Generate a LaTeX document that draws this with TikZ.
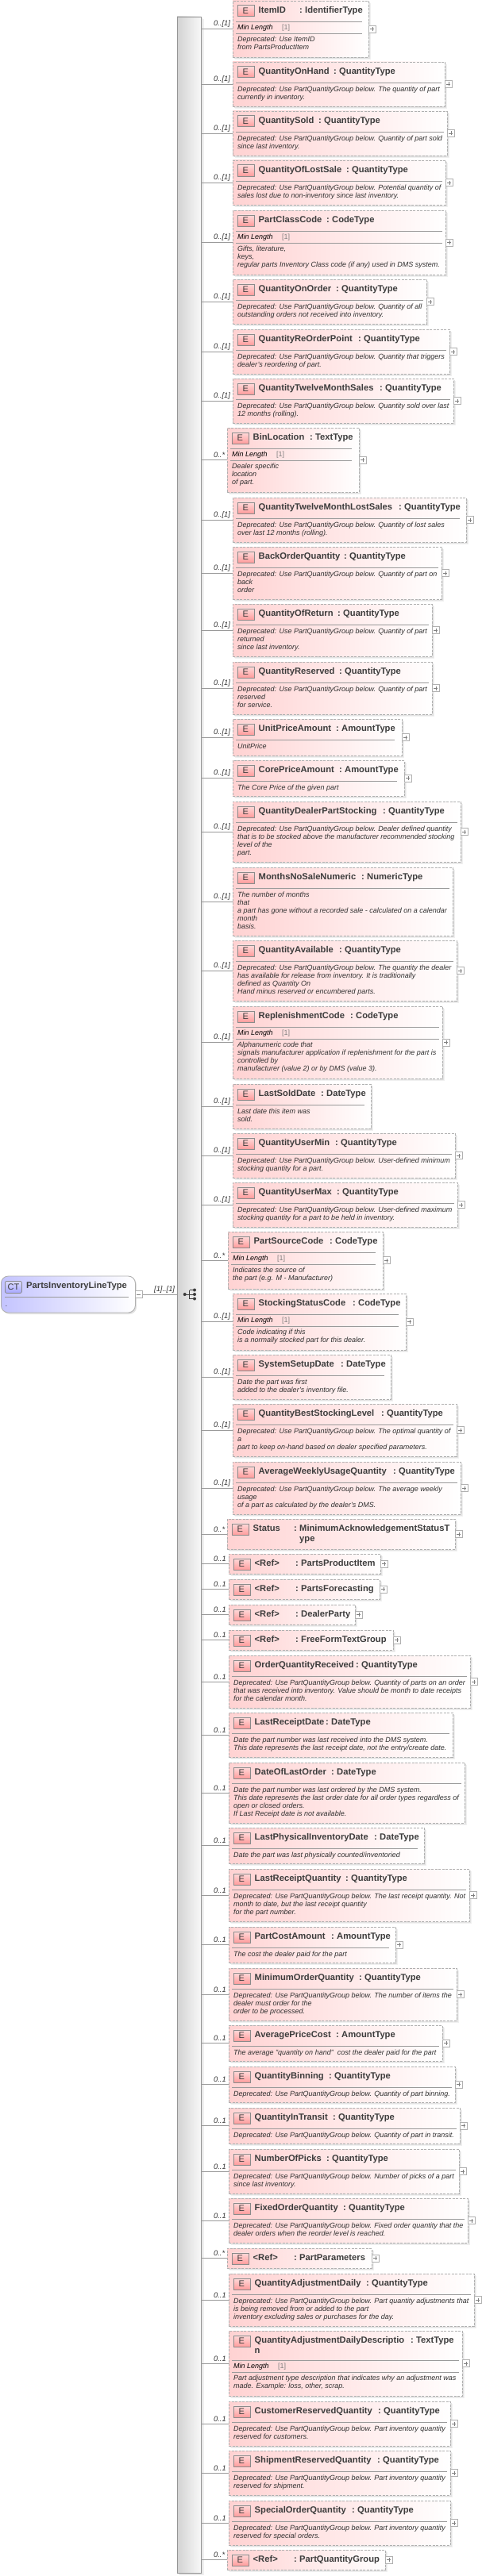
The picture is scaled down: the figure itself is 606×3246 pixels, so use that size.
\documentclass[tikz,border=0pt]{standalone}
\usepackage{fontspec}
\setmainfont{Liberation Sans}
\definecolor{ttxt}{HTML}{3C3C3C}
\definecolor{dtxt}{HTML}{303030}
\definecolor{bord}{HTML}{B0B0B0}
\definecolor{rule}{HTML}{9A9A9A}
\definecolor{pinkL}{HTML}{FFD2D2}
\definecolor{iconT}{HTML}{FFDADA}
\definecolor{iconB}{HTML}{FF9C9C}
\definecolor{iconL}{HTML}{8A8A8A}
\definecolor{ctL}{HTML}{C4C4FF}
\definecolor{spL}{HTML}{D2D2D2}
\definecolor{spR}{HTML}{F8F8F8}
\definecolor{shA}{HTML}{F0F0F0}
\definecolor{shB}{HTML}{E2E2E2}
\tikzset{
  elembox/.style={rectangle,draw=bord,dashed,dash pattern=on 3pt off 1.5pt,line width=0.9pt,left color=pinkL,right color=white,inner sep=0pt,outer sep=0pt},
  eicon/.style={rectangle,draw=iconL,line width=0.8pt,top color=iconT,bottom color=iconB,inner sep=0pt,minimum width=21pt,minimum height=14pt,text=ttxt,font=\fontsize{11}{11}\selectfont},
  etitle/.style={inner sep=0pt,anchor=north west,align=left,text=ttxt,font=\fontsize{11.2}{13}\selectfont\bfseries},
  edesc/.style={inner sep=0pt,anchor=north west,align=left,text=dtxt,font=\fontsize{9}{10}\selectfont\itshape},
  emin/.style={inner sep=0pt,anchor=west,text=black,font=\fontsize{9}{10}\selectfont\itshape},
  emulti/.style={inner sep=0pt,anchor=west,text=gray,font=\fontsize{9}{10}\selectfont},
  ecard/.style={inner sep=0pt,anchor=west,text=dtxt,font=\fontsize{9.3}{10}\selectfont\itshape},
  conn/.style={draw=rule,line width=0.7pt},
  hline/.style={draw=rule,line width=0.8pt},
  sh1/.style={fill=shA},
  sh2/.style={fill=shB},
  plusbox/.style={rectangle,draw=bord,fill=white,line width=0.6pt,inner sep=0pt,minimum size=9pt,anchor=west,
    path picture={\draw[gray,line width=0.5pt] ([xshift=-2.5pt]path picture bounding box.center) -- ([xshift=2.5pt]path picture bounding box.center) ([yshift=-2.5pt]path picture bounding box.center) -- ([yshift=2.5pt]path picture bounding box.center);}},
  minusbox/.style={rectangle,draw=bord,fill=white,line width=0.6pt,inner sep=0pt,minimum size=9pt,anchor=west,
    path picture={\draw[gray,line width=0.5pt] ([xshift=-2.5pt]path picture bounding box.center) -- ([xshift=2.5pt]path picture bounding box.center);}},
  spinebox/.style={rectangle,draw=bord!85!black,line width=0.8pt,left color=spL,right color=spR,inner sep=0pt,minimum width=30pt,minimum height=3221pt},
  ctbox/.style={rectangle,rounded corners=9pt,draw=bord,line width=0.9pt,left color=ctL,right color=white,inner sep=0pt,minimum width=169pt,minimum height=46pt,anchor=west},
  cticon/.style={rectangle,rounded corners=2pt,draw=iconL,line width=0.8pt,top color=ctL!60!white,bottom color=ctL!85!blue,inner sep=0pt,minimum width=21pt,minimum height=15pt,text=ttxt,font=\fontsize{11}{11}\selectfont}
}
\newcommand{\dep}{Deprecated: Use PartQuantityGroup below.}
\def\hy{26}
% id,x0,y0,x1,y1,name,colonx,type,card
\newcommand{\elem}[9]{%
  \pgfmathsetmacro\ew{#4-#2}\pgfmathsetmacro\eh{#5-#3}\pgfmathsetmacro\ecy{(#3+#5)/2}%
  \def\ex{#2}\def\ey{#3}\def\exr{#4}\def\eid{#1}%
  \fill[sh1] (#2+3,#3+3) rectangle (#4+3,#5+3);
  \fill[sh2] (#2+2,#3+2) rectangle (#4+2,#5+2);
  \node[elembox,minimum width=\ew pt,minimum height=\eh pt,anchor=west] (#1) at (#2,\ecy) {};
  \node[eicon,anchor=north west] (#1-E) at (#2+5.5,#3+5.5) {E};
  \node[etitle] (#1-name) at (#2+32.5,#3+6.5) {\rule{0pt}{8.5pt}#6};
  \node[etitle] (#1-colon) at (#7,#3+6.5) {\rule{0pt}{8.5pt}:};
  \node[etitle] (#1-type) at (#7+7,#3+6.5) {\rule{0pt}{8.5pt}#8};
  \draw[conn] (spine.east |- #1.west) -- (#1.west);
  \node[ecard] (#1-card) at (269,\ecy-6) {#9};
}
% line-end offset, description
\newcommand{\bodyd}[2]{%
  \draw[hline] (\ex+4,\ey+\hy) -- (\exr-#1,\ey+\hy);
  \node[edesc] (\eid-desc) at (\ex+6,\ey+\hy+3.8) {\rule{0pt}{7.5pt}#2};
}
\newcommand{\bodym}[2]{%
  \draw[hline] (\ex+4,\ey+\hy) -- (\exr-#1,\ey+\hy);
  \node[emin] (\eid-min) at (\ex+6,\ey+\hy+8) {Min Length};
  \node[emulti] (\eid-mult) at (\ex+62,\ey+\hy+8) {[1]};
  \draw[hline] (\ex+4,\ey+\hy+15) -- (\exr-#1,\ey+\hy+15);
  \node[edesc] (\eid-desc) at (\ex+6,\ey+\hy+17.8) {\rule{0pt}{7.5pt}#2};
}
\newcommand{\plusb}{\node[plusbox] (\eid-plus) at (\exr,\ecy) {};}
\begin{document}
\begin{tikzpicture}[x=1pt,y=-1pt]
\useasboundingbox (0,0) rectangle (606,3246);
\fill[white] (0,0) rectangle (606,3246);
% spine
\fill[sh1] (226,24) rectangle (257,3245);
\fill[sh2] (225,23) rectangle (255,3244);
\node[spinebox] (spine) at (238,1631.5) {};
% sequence symbol
\fill[ttxt] (232.7,1631) circle (2);
\fill[ttxt] (245,1625.5) circle (2);
\fill[ttxt] (245,1631) circle (2);
\fill[ttxt] (245,1636.5) circle (2);
\draw[ttxt,line width=0.8pt] (232.7,1631) -- (245,1631) (238.5,1625.5) -- (238.5,1636.5) (238.5,1625.5) -- (245,1625.5) (238.5,1636.5) -- (245,1636.5);
% complex type
\fill[shB,rounded corners=9pt] (3,1610) rectangle (172,1656);
\node[ctbox] (ct) at (1,1631) {};
\node[cticon,anchor=north west] (ct-icon) at (6,1614) {CT};
\node[etitle] (ct-name) at (33,1615) {\rule{0pt}{8.5pt}PartsInventoryLineType};
\draw[hline] (6,1634) -- (162,1634);
\node[edesc] (ct-desc) at (7,1639) {\rule{0pt}{7.5pt}.};
\node[minusbox] (ct-minus) at (170,1631) {};
\draw[conn] (ct-minus.east) -- (spine.west |- ct-minus.east);
\node[ecard] (ct-card) at (194,1625) {[1]..[1]};

\elem{e1}{293}{1}{464}{72}{ItemID}{377}{IdentifierType}{0..[1]}
\bodym{8}{Deprecated: Use ItemID\\from PartsProductItem}\plusb
\elem{e2}{293}{78}{560}{134}{QuantityOnHand}{420}{QuantityType}{0..[1]}
\bodyd{4}{\dep{} The quantity of part\\currently in inventory.}\plusb
\elem{e3}{293}{140}{563}{196}{QuantitySold}{401}{QuantityType}{0..[1]}
\bodyd{4}{\dep{} Quantity of part sold\\since last inventory.}\plusb
\elem{e4}{293}{202}{561}{258}{QuantityOfLostSale}{436}{QuantityType}{0..[1]}
\bodyd{4}{\dep{} Potential quantity of\\sales lost due to non-inventory since last inventory.}\plusb
\elem{e5}{293}{265}{561}{346}{PartClassCode}{411}{CodeType}{0..[1]}
\bodym{4}{Gifts, literature,\\keys,\\regular parts Inventory Class code (if any) used in DMS system.}\plusb
\elem{e6}{293}{352}{537}{408}{QuantityOnOrder}{423}{QuantityType}{0..[1]}
\bodyd{4}{\dep{} Quantity of all\\outstanding orders not received into inventory.}\plusb
\elem{e7}{293}{415}{566}{471}{QuantityReOrderPoint}{451}{QuantityType}{0..[1]}
\bodyd{4}{\dep{} Quantity that triggers\\dealer's reordering of part.}\plusb
\elem{e8}{293}{477}{571}{533}{QuantityTwelveMonthSales}{478}{QuantityType}{0..[1]}
\bodyd{4}{\dep{} Quantity sold over last\\12 months (rolling).}\plusb
\elem{e9}{286}{539}{452}{620}{BinLocation}{390}{TextType}{0..*}
\bodym{9}{Dealer specific\\location\\of part.}\plusb
\elem{e10}{293}{627}{587}{683}{QuantityTwelveMonthLostSales}{502}{QuantityType}{0..[1]}
\bodyd{8}{\dep{} Quantity of lost sales\\over last 12 months (rolling).}\plusb
\elem{e11}{293}{689}{556}{755}{BackOrderQuantity}{433}{QuantityType}{0..[1]}
\bodyd{4}{\dep{} Quantity of part on\\back\\order}\plusb
\elem{e12}{293}{761}{544}{827}{QuantityOfReturn}{425}{QuantityType}{0..[1]}
\bodyd{4}{\dep{} Quantity of part\\returned\\since last inventory.}\plusb
\elem{e13}{293}{834}{544}{900}{QuantityReserved}{427}{QuantityType}{0..[1]}
\bodyd{4}{\dep{} Quantity of part\\reserved\\for service.}\plusb
\elem{e14}{293}{906}{506}{952}{UnitPriceAmount}{423}{AmountType}{0..[1]}
\bodyd{9}{UnitPrice}\plusb
\elem{e15}{293}{958}{509}{1003}{CorePriceAmount}{427}{AmountType}{0..[1]}
\bodyd{9}{The Core Price of the given part}\plusb
\elem{e16}{293}{1010}{580}{1086}{QuantityDealerPartStocking}{482}{QuantityType}{0..[1]}
\bodyd{4}{\dep{} Dealer defined quantity\\that is to be stocked above the manufacturer recommended stocking\\level of the\\part.}\plusb
\elem{e17}{293}{1093}{570}{1179}{MonthsNoSaleNumeric}{455}{NumericType}{0..[1]}
\bodyd{4}{The number of months\\that\\a part has gone without a recorded sale - calculated on a calendar\\month\\basis.}
\elem{e18}{293}{1185}{575}{1261}{QuantityAvailable}{427}{QuantityType}{0..[1]}
\bodyd{4}{\dep{} The quantity the dealer\\has available for release from inventory. It is traditionally\\defined as Quantity On\\Hand minus reserved or encumbered parts.}\plusb
\elem{e19}{293}{1268}{557}{1359}{ReplenishmentCode}{441}{CodeType}{0..[1]}
\bodym{4}{Alphanumeric code that\\signals manufacturer application if replenishment for the part is\\controlled by\\manufacturer (value 2) or by DMS (value 3).}\plusb
\elem{e20}{293}{1366}{467}{1422}{LastSoldDate}{404}{DateType}{0..[1]}
\bodyd{8}{Last date this item was\\sold.}
\elem{e21}{293}{1428}{573}{1484}{QuantityUserMin}{422}{QuantityType}{0..[1]}
\bodyd{4}{\dep{} User-defined minimum\\stocking quantity for a part.}\plusb
\elem{e22}{293}{1490}{576}{1546}{QuantityUserMax}{424}{QuantityType}{0..[1]}
\bodyd{4}{\dep{} User-defined maximum\\stocking quantity for a part to be held in inventory.}\plusb
\elem{e23}{287}{1552}{482}{1624}{PartSourceCode}{415}{CodeType}{0..*}
\bodym{9}{Indicates the source of\\the part (e.g. M - Manufacturer)}\plusb
\elem{e24}{293}{1630}{511}{1701}{StockingStatusCode}{444}{CodeType}{0..[1]}
\bodym{9}{Code indicating if this\\is a normally stocked part for this dealer.}\plusb
\elem{e25}{293}{1707}{492}{1763}{SystemSetupDate}{429}{DateType}{0..[1]}
\bodyd{8}{Date the part was first\\added to the dealer's inventory file.}
\elem{e26}{293}{1769}{575}{1835}{QuantityBestStockingLevel}{480}{QuantityType}{0..[1]}
\bodyd{4}{\dep{} The optimal quantity of\\a\\part to keep on-hand based on dealer specified parameters.}\plusb
\elem{e27}{293}{1842}{580}{1908}{AverageWeeklyUsageQuantity}{495}{QuantityType}{0..[1]}
\bodyd{4}{\dep{} The average weekly\\usage\\of a part as calculated by the dealer's DMS.}\plusb
\elem{e28}{286}{1914}{573}{1952}{Status}{370}{MinimumAcknowledgementStatusT\\ype}{0..*}
\plusb
\elem{e29}{288}{1958}{479}{1983}{<Ref>}{372}{PartsProductItem}{0..1}
\plusb
\elem{e30}{288}{1990}{478}{2015}{<Ref>}{372}{PartsForecasting}{0..1}
\plusb
\elem{e31}{288}{2022}{447}{2047}{<Ref>}{372}{DealerParty}{0..1}
\plusb
\elem{e32}{288}{2054}{495}{2079}{<Ref>}{372}{FreeFormTextGroup}{0..1}
\plusb
\elem{e33}{288}{2086}{592}{2152}{OrderQuantityReceived}{448}{QuantityType}{0..1}
\bodyd{4}{\dep{} Quantity of parts on an order\\that was received into inventory. Value should be month to date receipts\\for the calendar month.}\plusb
\elem{e34}{288}{2158}{570}{2214}{LastReceiptDate}{410}{DateType}{0..1}
\bodyd{4}{Date the part number was last received into the DMS system.\\This date represents the last receipt date, not the entry/create date.}
\elem{e35}{288}{2221}{585}{2297}{DateOfLastOrder}{417}{DateType}{0..1}
\bodyd{4}{Date the part number was last ordered by the DMS system.\\This date represents the last order date for all order types regardless of\\open or closed orders.\\If Last Receipt date is not available.}
\elem{e36}{288}{2303}{534}{2348}{LastPhysicalInventoryDate}{471}{DateType}{0..1}
\bodyd{8}{Date the part was last physically counted/inventoried}
\elem{e37}{288}{2355}{591}{2421}{LastReceiptQuantity}{435}{QuantityType}{0..1}
\bodyd{4}{\dep{} The last receipt quantity. Not\\month to date, but the last receipt quantity\\for the part number.}\plusb
\elem{e38}{288}{2428}{498}{2473}{PartCostAmount}{417}{AmountType}{0..1}
\bodyd{8}{The cost the dealer paid for the part}\plusb
\elem{e39}{288}{2480}{575}{2546}{MinimumOrderQuantity}{452}{QuantityType}{0..1}
\bodyd{4}{\dep{} The number of items the\\dealer must order for the\\order to be processed.}\plusb
\elem{e40}{288}{2552}{557}{2597}{AveragePriceCost}{423}{AmountType}{0..1}
\bodyd{4}{The average "quantity on hand"\ \ cost the dealer paid for the part}\plusb
\elem{e41}{288}{2604}{573}{2649}{QuantityBinning}{414}{QuantityType}{0..1}
\bodyd{4}{\dep{} Quantity of part binning.}\plusb
\elem{e42}{288}{2656}{579}{2701}{QuantityInTransit}{419}{QuantityType}{0..1}
\bodyd{4}{\dep{} Quantity of part in transit.}\plusb
\elem{e43}{288}{2708}{578}{2764}{NumberOfPicks}{411}{QuantityType}{0..1}
\bodyd{4}{\dep{} Number of picks of a part\\since last inventory.}\plusb
\elem{e44}{288}{2770}{589}{2826}{FixedOrderQuantity}{432}{QuantityType}{0..1}
\bodyd{4}{\dep{} Fixed order quantity that the\\dealer orders when the reorder level is reached.}\plusb
\elem{e45}{286}{2833}{468}{2858}{<Ref>}{370}{PartParameters}{0..*}
\plusb
\elem{e46}{288}{2865}{597}{2931}{QuantityAdjustmentDaily}{461}{QuantityType}{0..1}
\bodyd{4}{\dep{} Part quantity adjustments that\\is being removed from or added to the part\\inventory excluding sales or purchases for the day.}\plusb
\def\hy{37}
\elem{e47}{288}{2937}{582}{3019}{QuantityAdjustmentDailyDescriptio\\n}{517}{TextType}{0..1}
\bodym{4}{Part adjustment type description that indicates why an adjustment was\\made. Example: loss, other, scrap.}\plusb
\def\hy{26}
\elem{e48}{288}{3026}{567}{3082}{CustomerReservedQuantity}{476}{QuantityType}{0..1}
\bodyd{4}{\dep{} Part inventory quantity\\reserved for customers.}\plusb
\elem{e49}{288}{3088}{567}{3144}{ShipmentReservedQuantity}{475}{QuantityType}{0..1}
\bodyd{4}{\dep{} Part inventory quantity\\reserved for shipment.}\plusb
\elem{e50}{288}{3151}{567}{3207}{SpecialOrderQuantity}{443}{QuantityType}{0..1}
\bodyd{4}{\dep{} Part inventory quantity\\reserved for special orders.}\plusb
\elem{e51}{286}{3213}{485}{3238}{<Ref>}{370}{PartQuantityGroup}{0..*}
\plusb
\end{tikzpicture}
\end{document}
